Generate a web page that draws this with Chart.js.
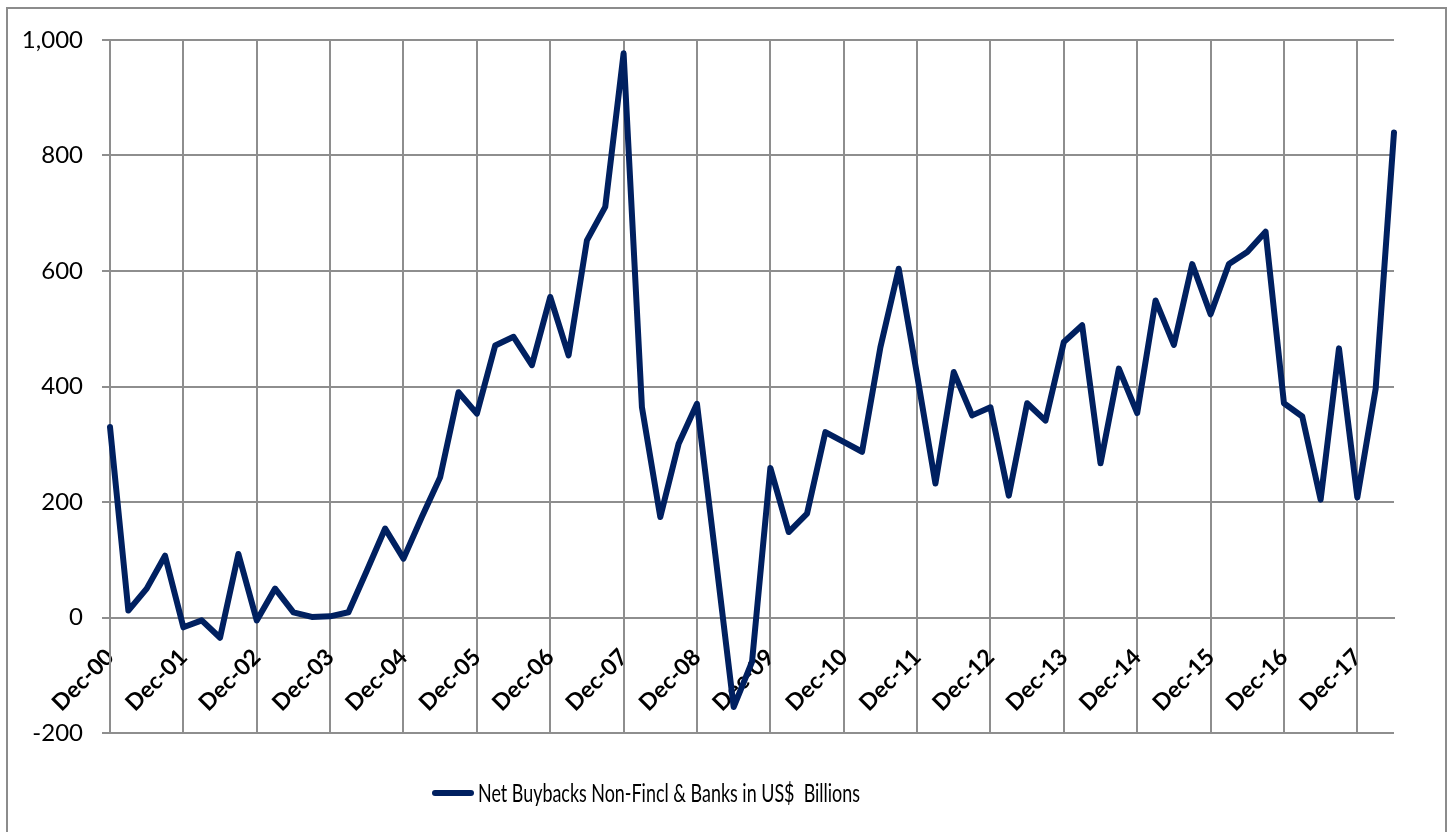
<!DOCTYPE html>
<html>
<head>
<meta charset="utf-8">
<title>Net Buybacks</title>
<script src="https://cdn.jsdelivr.net/npm/chart.js@4.4.0/dist/chart.umd.min.js"></script>
<style>
  body { margin: 0; background: #fff; overflow: hidden; }
  #frame { position: absolute; left: 6px; top: 7px; width: 1437px; height: 900px; border: 2px solid #8c8c8c; }
  #wrap { position: absolute; left: 0; top: 0; width: 1451px; height: 832px; }
</style>
</head>
<body>
<div id="frame"></div>
<div id="wrap"><canvas id="buybackChart"></canvas></div>
<script>
// quarterly periods, Dec-00 .. Jun-18
const quarters = [
    "Dec-00",
    "Mar-01", "Jun-01", "Sep-01", "Dec-01",
    "Mar-02", "Jun-02", "Sep-02", "Dec-02",
    "Mar-03", "Jun-03", "Sep-03", "Dec-03",
    "Mar-04", "Jun-04", "Sep-04", "Dec-04",
    "Mar-05", "Jun-05", "Sep-05", "Dec-05",
    "Mar-06", "Jun-06", "Sep-06", "Dec-06",
    "Mar-07", "Jun-07", "Sep-07", "Dec-07",
    "Mar-08", "Jun-08", "Sep-08", "Dec-08",
    "Mar-09", "Jun-09", "Sep-09", "Dec-09",
    "Mar-10", "Jun-10", "Sep-10", "Dec-10",
    "Mar-11", "Jun-11", "Sep-11", "Dec-11",
    "Mar-12", "Jun-12", "Sep-12", "Dec-12",
    "Mar-13", "Jun-13", "Sep-13", "Dec-13",
    "Mar-14", "Jun-14", "Sep-14", "Dec-14",
    "Mar-15", "Jun-15", "Sep-15", "Dec-15",
    "Mar-16", "Jun-16", "Sep-16", "Dec-16",
    "Mar-17", "Jun-17", "Sep-17", "Dec-17",
    "Mar-18", "Jun-18"
];

// net buybacks, US$ billions
const netBuybacks = [
    330,
    12, 50, 107, -17,
    -5, -35, 110, -5,
    50, 9, 1, 2,
    9, 81, 154, 102,
    174, 243, 390, 353,
    471, 486, 437, 555,
    454, 653, 711, 977,
    364, 174, 301, 370,
    109, -155, -77, 259,
    148, 180, 321, 304,
    287, 468, 604, 420,
    232, 425, 350, 364,
    211, 371, 341, 477,
    506, 267, 431, 354,
    549, 472, 612, 525,
    612, 633, 668, 371,
    348, 204, 466, 208,
    396, 840
];

const seriesLabel = "Net Buybacks Non-Fincl & Banks in US$  Billions";
const yMin = -200;
const yMax = 1000;
const yStep = 200;

const gridColor = "#8e8e8e";
const lineColor = "#002060";

// only the December quarters get a label and a vertical grid line
function isYearTick(index) {
    return quarters[index].startsWith("Dec");
}

// legend drawn by hand below the plot, text squeezed to a narrow face
const bottomLegend = {
    id: "bottomLegend",
    afterDraw(chart) {
        const ctx = chart.ctx;
        const ds = chart.data.datasets[0];
        const textX = 478, textW = 382;
        ctx.save();
        ctx.strokeStyle = ds.borderColor;
        ctx.lineWidth = 6;
        ctx.lineCap = "round";
        ctx.beginPath();
        ctx.moveTo(435, 793);
        ctx.lineTo(471, 793);
        ctx.stroke();
        ctx.fillStyle = "#000";
        ctx.font = '25px Lato, sans-serif';
        ctx.textBaseline = "alphabetic";
        ctx.textAlign = "left";
        const w = ctx.measureText(ds.label).width;
        ctx.translate(textX, 802);
        ctx.scale(textW / w, 1);
        ctx.fillText(ds.label, 0, 0);
        ctx.restore();
    }
};

const chartCtx = document.getElementById("buybackChart").getContext("2d");

const buybackChart = new Chart(chartCtx, {
    type: "line",
    data: {
        labels: quarters,
        datasets: [{
            label: seriesLabel,
            data: netBuybacks,
            borderColor: lineColor,
            backgroundColor: lineColor,
            borderWidth: 6,
            borderJoinStyle: "round",
            borderCapStyle: "round",
            pointRadius: 0,
            tension: 0
        }]
    },
    options: {
        responsive: true,
        maintainAspectRatio: false,
        animation: false,
        layout: {
            padding: { left: 0, top: 40, right: 57, bottom: 99 }
        },
        plugins: {
            legend: { display: false },
            tooltip: { enabled: false }
        },
        scales: {
            x: {
                type: "category",
                position: { y: 0 },
                offset: false,
                grid: {
                    drawTicks: false,
                    color: ctx => (ctx.index !== undefined && isYearTick(ctx.index)) ? gridColor : "rgba(0,0,0,0)",
                    lineWidth: 2
                },
                border: { display: true, color: gridColor, width: 2 },
                ticks: {
                    autoSkip: false,
                    maxRotation: 45,
                    minRotation: 45,
                    padding: 26,
                    color: "#000",
                    font: { family: "Lato", size: 23, weight: "bold" },
                    callback: (value, index) => isYearTick(index) ? quarters[index] : ""
                }
            },
            y: {
                min: yMin,
                max: yMax,
                afterFit: scale => { scale.width = 110; },
                grid: {
                    color: gridColor,
                    lineWidth: 2,
                    tickLength: 8
                },
                border: { display: true, color: gridColor, width: 2 },
                ticks: {
                    stepSize: yStep,
                    padding: 19,
                    color: "#000",
                    font: { family: "Lato", size: 24 }
                }
            }
        }
    },
    plugins: [bottomLegend]
});
</script>
</body>
</html>
